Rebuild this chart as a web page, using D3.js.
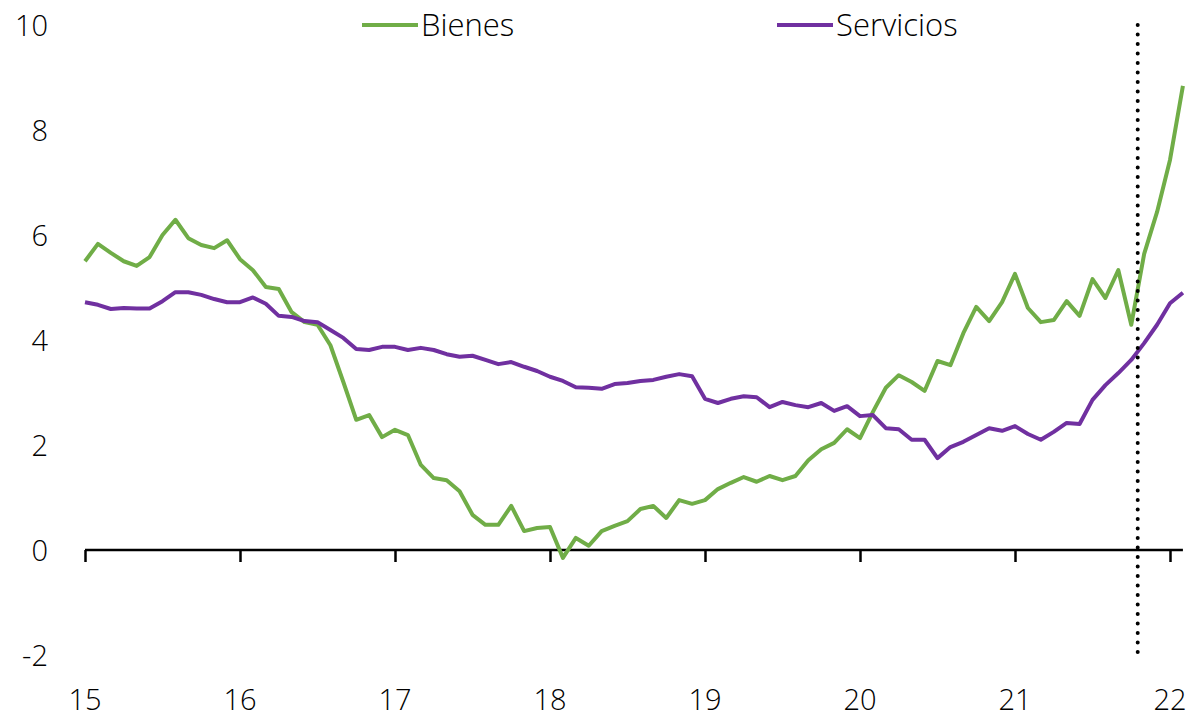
<!DOCTYPE html>
<html><head><meta charset="utf-8">
<script src="https://cdn.jsdelivr.net/npm/d3@7"></script>
<style>
html,body{margin:0;padding:0;background:#fff;}
svg text{font-family:"Open Sans",sans-serif;font-weight:300;fill:#000;}
</style></head>
<body><svg id="chart" width="1191" height="719"></svg>
<script>
// Monthly data, Jan 2015 .. Feb 2022
const startYear = 2015;
const bienes = [5.50,5.83,5.66,5.50,5.41,5.58,6.00,6.29,5.94,5.81,5.75,5.90,
  5.54,5.33,5.01,4.97,4.53,4.34,4.29,3.90,3.20,2.48,2.57,2.15,
  2.29,2.19,1.62,1.37,1.33,1.12,0.67,0.48,0.48,0.84,0.36,0.42,
  0.44,-0.15,0.23,0.08,0.36,0.46,0.55,0.78,0.84,0.61,0.95,0.88,
  0.95,1.16,1.28,1.39,1.30,1.41,1.33,1.41,1.71,1.92,2.04,2.30,
  2.13,2.63,3.09,3.33,3.20,3.03,3.60,3.52,4.13,4.63,4.36,4.72,
  5.26,4.61,4.34,4.38,4.74,4.46,5.16,4.80,5.33,4.29,5.64,6.44,
  7.43,8.84];
const servicios = [4.72,4.67,4.59,4.61,4.60,4.60,4.74,4.91,4.91,4.86,4.78,4.72,
  4.72,4.81,4.69,4.46,4.44,4.36,4.34,4.19,4.04,3.83,3.81,3.87,
  3.87,3.81,3.85,3.81,3.73,3.68,3.70,3.62,3.54,3.58,3.49,3.41,
  3.30,3.22,3.10,3.09,3.07,3.16,3.18,3.22,3.24,3.30,3.35,3.31,
  2.88,2.80,2.88,2.93,2.91,2.72,2.82,2.76,2.72,2.80,2.65,2.74,
  2.55,2.57,2.32,2.30,2.10,2.10,1.75,1.96,2.06,2.19,2.32,2.27,
  2.36,2.21,2.10,2.25,2.42,2.40,2.86,3.14,3.37,3.62,3.94,4.29,
  4.70,4.90];
const seriesNames = ["Bienes","Servicios"];
const seriesColors = ["#70AD47","#7030A0"];
const xTickYears = [2015,2016,2017,2018,2019,2020,2021,2022];
const xTickLabels = ["15","16","17","18","19","20","21","22"];
const yTicks = [-2,0,2,4,6,8,10];
const markerYear = 2015 + 81.5/12; // dotted vertical line

const svg = d3.select("#chart");
const x = d3.scaleLinear().domain([2015, 2022]).range([85, 1170]);
const y = d3.scaleLinear().domain([-2, 10]).range([655, 25]);
const t = i => startYear + i/12;

// y tick labels (no axis line)
const yAxis = d3.axisLeft(y).tickValues(yTicks).tickSize(0).tickPadding(0)
  .tickFormat(d => d);
const gy = svg.append("g").attr("transform","translate(48,0)").call(yAxis);
gy.select(".domain").remove();
gy.selectAll("text").attr("font-size",29).attr("font-family","Open Sans").attr("font-weight",300).attr("dy","0.35em");

// x axis at y=0
const xAxis = d3.axisBottom(x).tickValues(xTickYears).tickSize(12).tickFormat(() => "");
const gx = svg.append("g").attr("transform",`translate(0,${y(0)})`).call(xAxis);
gx.select(".domain").attr("d",`M${x(2015)},0H${x(t(85))}`).attr("stroke","#000").attr("stroke-width",2.5);
gx.selectAll(".tick line").attr("stroke","#000").attr("stroke-width",2.5);

// x labels at bottom
svg.append("g").selectAll("text").data(xTickYears).join("text")
  .attr("x", d => x(d)).attr("y", 710)
  .attr("text-anchor","middle").attr("font-size",29)
  .text((d,i) => xTickLabels[i]);

// lines
const line = d3.line().x((d,i) => x(t(i))).y(d => y(d));
[bienes, servicios].forEach((s,k) => {
  svg.append("path").datum(s).attr("d", line)
    .attr("fill","none").attr("stroke",seriesColors[k]).attr("stroke-width",4)
    .attr("stroke-linejoin","round");
});

// dotted vertical line
svg.append("line").attr("x1",x(markerYear)).attr("x2",x(markerYear))
  .attr("y1",y(10)).attr("y2",y(-2))
  .attr("stroke","#000").attr("stroke-width",4)
  .attr("stroke-linecap","round").attr("stroke-dasharray","0 9.5");

// legend
const legX = [362, 777];
seriesNames.forEach((n,k) => {
  const g = svg.append("g");
  g.append("line").attr("x1",legX[k]).attr("x2",legX[k]+56).attr("y1",25).attr("y2",25)
    .attr("stroke",seriesColors[k]).attr("stroke-width",4);
  g.append("text").attr("x",legX[k]+59).attr("y",25).attr("dy","0.35em")
    .attr("font-size",31).text(n);
});
</script></body></html>
